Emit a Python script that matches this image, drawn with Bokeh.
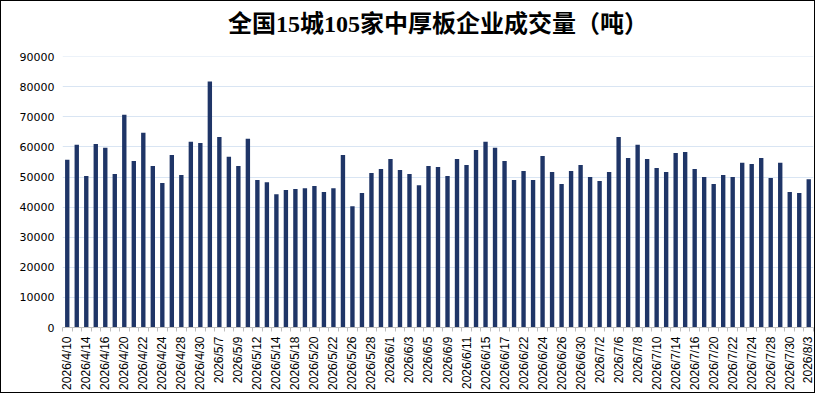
import math
from bokeh.plotting import figure
from bokeh.models import FixedTicker, Range1d, NumeralTickFormatter, ColumnDataSource, Title
from bokeh.embed import file_html
from bokeh.resources import INLINE

# ---- data ----
dates = [
    "2026/4/10", "2026/4/13", "2026/4/14", "2026/4/15", "2026/4/16", "2026/4/17",
    "2026/4/20", "2026/4/21", "2026/4/22", "2026/4/23", "2026/4/24", "2026/4/27",
    "2026/4/28", "2026/4/29", "2026/4/30", "2026/5/6", "2026/5/7", "2026/5/8",
    "2026/5/9", "2026/5/11", "2026/5/12", "2026/5/13", "2026/5/14", "2026/5/15",
    "2026/5/18", "2026/5/19", "2026/5/20", "2026/5/21", "2026/5/22", "2026/5/25",
    "2026/5/26", "2026/5/27", "2026/5/28", "2026/5/29", "2026/6/1", "2026/6/2",
    "2026/6/3", "2026/6/4", "2026/6/5", "2026/6/8", "2026/6/9", "2026/6/10",
    "2026/6/11", "2026/6/12", "2026/6/15", "2026/6/16", "2026/6/17", "2026/6/18",
    "2026/6/22", "2026/6/23", "2026/6/24", "2026/6/25", "2026/6/26", "2026/6/29",
    "2026/6/30", "2026/7/1", "2026/7/2", "2026/7/3", "2026/7/6", "2026/7/7",
    "2026/7/8", "2026/7/9", "2026/7/10", "2026/7/13", "2026/7/14", "2026/7/15",
    "2026/7/16", "2026/7/17", "2026/7/20", "2026/7/21", "2026/7/22", "2026/7/23",
    "2026/7/24", "2026/7/27", "2026/7/28", "2026/7/29", "2026/7/30", "2026/7/31",
    "2026/8/3",
]
volume = [
    55700, 60700, 50300, 61000, 59700, 51000, 70700, 55300, 64700, 53700,
    48000, 57300, 50700, 61700, 61300, 81700, 63300, 56700, 53700, 62700,
    49000, 48300, 44300, 45700, 46000, 46300, 47000, 45000, 46300, 57300,
    40300, 44700, 51300, 52700, 56000, 52300, 51000, 47300, 53700, 53300,
    50300, 56000, 54000, 59000, 61700, 59700, 55300, 49000, 52000, 49000,
    57000, 51700, 47700, 52000, 54000, 50000, 48700, 51700, 63300, 56300,
    60700, 56000, 53000, 51700, 58000, 58300, 52700, 50000, 47700, 50700,
    50000, 54700, 54300, 56300, 49700, 54700, 45000, 44700, 49300,
]
y_ticks = [0, 10000, 20000, 30000, 40000, 50000, 60000, 70000, 80000, 90000]
title_text = "全国15城105家中厚板企业成交量（吨）"

idx = list(range(len(dates)))
src = ColumnDataSource(dict(x=idx, y=volume, d=dates))

p = figure(
    width=815, height=393,
    output_backend="svg", toolbar_location=None,
    x_range=Range1d(-0.5, len(dates) - 0.5),
    y_range=Range1d(0, 90000 * 1.0005),
    title=title_text,
    min_border_left=61, min_border_right=3, min_border_top=55, min_border_bottom=67,
)
p.styles = {"border": "1px solid #000000"}
p.background_fill_color = "#ffffff"
p.border_fill_color = "#ffffff"
p.outline_line_color = None

p.title.text_font = "Liberation Serif, Noto Sans CJK SC"
p.title.text_font_size = "24px"
p.title.text_font_style = "bold"
p.title.text_color = "#000000"
p.title.align = "center"
p.title.vertical_align = "bottom"
p.title.standoff = 2
p.title.offset = 14

# empty spacer between title and plot area
p.add_layout(Title(text=" ", text_font_size="1px", standoff=16), "above")

p.vbar(x="x", top="y", width=0.46, source=src, fill_color="#1F3567", line_color=None)

# x axis
even = idx[::2]
p.xaxis.ticker = FixedTicker(ticks=even, minor_ticks=[i - 0.5 for i in range(len(dates) + 1)])
p.xaxis.major_label_overrides = {i: dates[i] for i in even}
p.xaxis.major_label_orientation = math.pi / 2
p.xaxis.major_tick_line_color = None
p.xaxis.major_tick_out = 0
p.xaxis.major_tick_in = 0
p.xaxis.minor_tick_line_color = "#BFBFBF"
p.xaxis.minor_tick_out = 4
p.xaxis.minor_tick_in = 0
p.xaxis.axis_line_color = "#BFBFBF"
p.xaxis.axis_line_width = 1
p.xaxis.major_label_text_font = "Liberation Sans"
p.xaxis.major_label_text_font_size = "12px"
p.xaxis.major_label_text_color = "#000000"
p.xaxis.major_label_standoff = 5

# y axis
p.yaxis.ticker = FixedTicker(ticks=y_ticks)
p.yaxis.formatter = NumeralTickFormatter(format="0")
p.yaxis.axis_line_color = None
p.yaxis.major_tick_line_color = None
p.yaxis.minor_tick_line_color = None
p.yaxis.major_tick_out = 0
p.yaxis.major_label_text_font = "DejaVu Sans"
p.yaxis.major_label_text_font_size = "11px"
p.yaxis.major_label_text_color = "#000000"
p.yaxis.major_label_standoff = 8

p.xgrid.grid_line_color = None
p.ygrid.grid_line_color = "#D9E5F3"
p.ygrid.grid_line_width = 1

open("out.html", "w").write(file_html(p, INLINE))
